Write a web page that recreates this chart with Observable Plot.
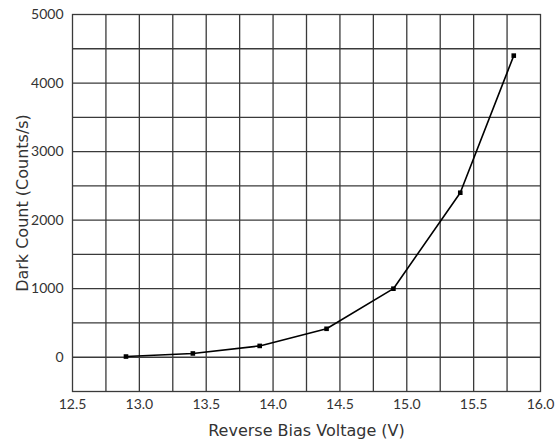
<!DOCTYPE html>
<html>
<head>
<meta charset="utf-8">
<script src="https://cdn.jsdelivr.net/npm/d3@7"></script>
<script src="https://cdn.jsdelivr.net/npm/@observablehq/plot@0.6"></script>
<style>
  html, body { margin: 0; padding: 0; background: #fff; }
  #chart svg { display: block; }
</style>
</head>
<body>
<div id="chart"></div>
<script>
const voltage = [12.9, 13.4, 13.9, 14.4, 14.9, 15.4, 15.8];
const darkCount = [10, 55, 165, 415, 1000, 2400, 4400];
const xTickLabels = [12.5, 13.0, 13.5, 14.0, 14.5, 15.0, 15.5, 16.0];
const yTickLabels = [0, 1000, 2000, 3000, 4000, 5000];
const xGrid = [12.75, 13.0, 13.25, 13.5, 13.75, 14.0, 14.25, 14.5, 14.75, 15.0, 15.25, 15.5, 15.75];
const yGrid = [0, 500, 1000, 1500, 2000, 2500, 3000, 3500, 4000, 4500];

const data = voltage.map((v, i) => ({v, c: darkCount[i]}));
const gridColor = "#3a3a3a";

const chart = Plot.plot({
  width: 555,
  height: 445,
  marginLeft: 72,
  marginRight: 15,
  marginTop: 14,
  marginBottom: 54,
  style: {fontFamily: "Lato, 'DejaVu Sans', sans-serif", fontSize: "13px", color: "#333", background: "#fff"},
  x: {domain: [12.5, 16.0]},
  y: {domain: [-500, 5000]},
  marks: [
    Plot.ruleX(xGrid, {stroke: gridColor, strokeWidth: 1.3}),
    Plot.ruleY(yGrid, {stroke: gridColor, strokeWidth: 1.3}),
    Plot.frame({stroke: gridColor, strokeWidth: 1.3}),
    Plot.axisX(xTickLabels, {tickSize: 0, tickPadding: 8, tickFormat: d => d.toFixed(1), fontSize: 14,
      label: "Reverse Bias Voltage (V)", labelAnchor: "center", labelArrow: "none", labelOffset: 44}),
    Plot.axisY(yTickLabels, {tickSize: 0, tickPadding: 9, fontSize: 14, tickFormat: d => String(d),
      label: "Dark Count (Counts/s)", labelAnchor: "center", labelArrow: "none", labelOffset: 56}),
    Plot.line(data, {x: "v", y: "c", stroke: "#000", strokeWidth: 1.6, curve: "linear"}),
    Plot.dot(data, {x: "v", y: "c", symbol: "square", r: 2.6, fill: "#000", stroke: "none"})
  ]
});
chart.querySelectorAll('[aria-label="x-axis label"] text, [aria-label="y-axis label"] text').forEach(t => {
  t.style.fontSize = "16px";
  t.style.fontFamily = "'DejaVu Sans', sans-serif";
  t.style.fill = "#333";
});
document.getElementById("chart").appendChild(chart);
</script>
</body>
</html>
